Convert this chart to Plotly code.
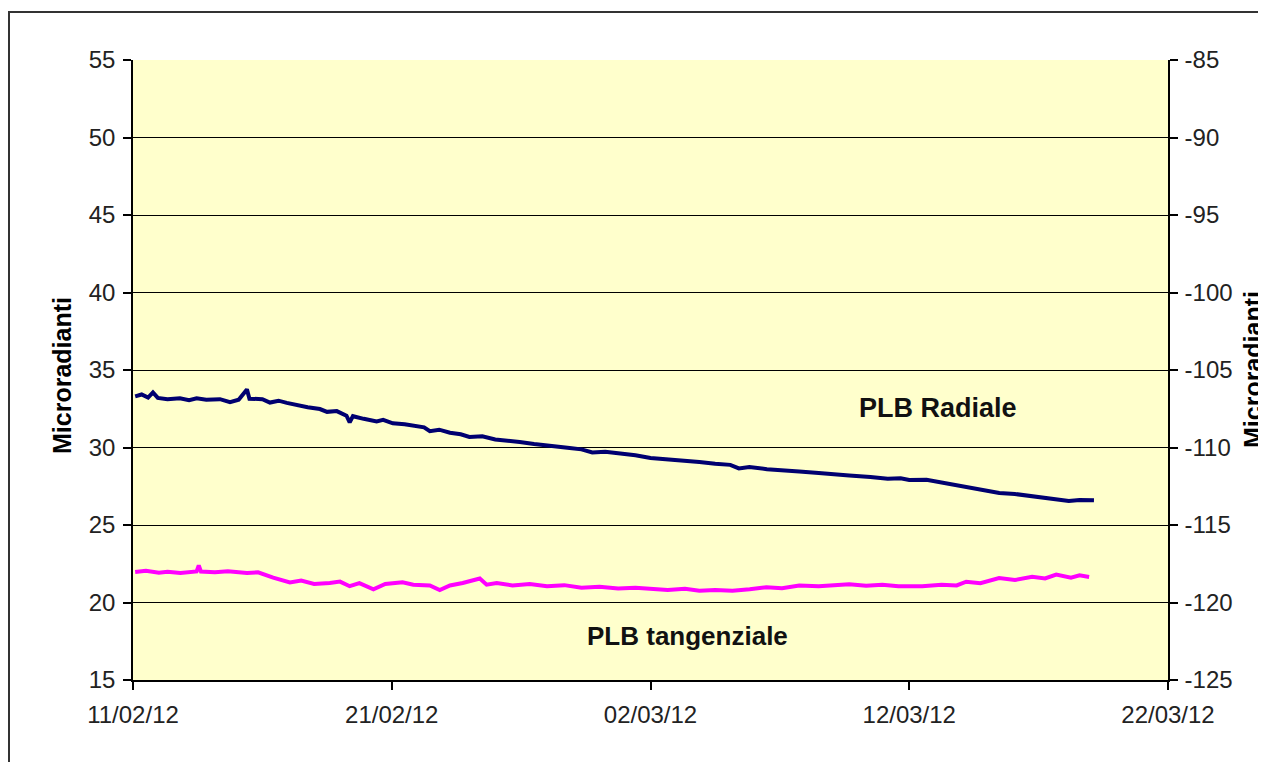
import plotly.graph_objects as go

# ---- data ----
radiale_dates = [
    "2012-02-11 02:00", "2012-02-11 08:00", "2012-02-11 14:00", "2012-02-11 18:30",
    "2012-02-11 23:00", "2012-02-12 08:00", "2012-02-12 19:30", "2012-02-13 04:00",
    "2012-02-13 11:00", "2012-02-13 20:00", "2012-02-14 08:40", "2012-02-14 18:00",
    "2012-02-15 02:00", "2012-02-15 09:40", "2012-02-15 12:00", "2012-02-16 00:00",
    "2012-02-16 07:00", "2012-02-16 15:00", "2012-02-16 22:40", "2012-02-17 08:00",
    "2012-02-17 18:00", "2012-02-18 05:20", "2012-02-18 12:00", "2012-02-18 21:00",
    "2012-02-19 06:00", "2012-02-19 09:00", "2012-02-19 12:00", "2012-02-19 22:00",
    "2012-02-20 10:00", "2012-02-20 16:00", "2012-02-21 01:00", "2012-02-21 12:00",
    "2012-02-21 23:20", "2012-02-22 06:00", "2012-02-22 11:20", "2012-02-22 20:00",
    "2012-02-23 06:00", "2012-02-23 16:00", "2012-02-24 00:00", "2012-02-24 12:00",
    "2012-02-25 00:00", "2012-02-25 12:00", "2012-02-25 22:40", "2012-02-26 12:00",
    "2012-02-27 04:00", "2012-02-27 21:00", "2012-02-28 08:00", "2012-02-28 18:00",
    "2012-02-29 06:00", "2012-02-29 19:20", "2012-03-01 10:00", "2012-03-02 00:00",
    "2012-03-02 16:00", "2012-03-03 08:00", "2012-03-03 21:20", "2012-03-04 12:00",
    "2012-03-05 02:00", "2012-03-05 10:00", "2012-03-05 19:40", "2012-03-06 12:00",
    "2012-03-07 04:00", "2012-03-07 18:00", "2012-03-08 12:00", "2012-03-09 04:00",
    "2012-03-09 16:20", "2012-03-10 12:00", "2012-03-11 04:00", "2012-03-11 16:00",
    "2012-03-12 00:00", "2012-03-12 16:00", "2012-03-13 03:50", "2012-03-13 16:00",
    "2012-03-14 07:40", "2012-03-14 20:00", "2012-03-15 11:30", "2012-03-16 02:00",
    "2012-03-16 14:00", "2012-03-17 00:30", "2012-03-17 14:00", "2012-03-18 04:00",
    "2012-03-18 14:00", "2012-03-19 03:20",
]
radiale_values = [
    33.30, 33.42, 33.22, 33.55,
    33.20, 33.12, 33.18, 33.05,
    33.17, 33.08, 33.12, 32.92,
    33.08, 33.75, 33.15, 33.12,
    32.90, 33.02, 32.88, 32.72,
    32.60, 32.48, 32.30, 32.35,
    32.05, 31.62, 32.02, 31.85,
    31.68, 31.78, 31.56, 31.50,
    31.40, 31.30, 31.05, 31.15,
    30.95, 30.85, 30.68, 30.72,
    30.52, 30.45, 30.35, 30.22,
    30.12, 29.97, 29.88, 29.68,
    29.72, 29.62, 29.50, 29.32,
    29.25, 29.15, 29.06, 28.95,
    28.88, 28.65, 28.74, 28.60,
    28.55, 28.45, 28.35, 28.30,
    28.20, 28.10, 27.98, 28.02,
    27.90, 27.92, 27.77, 27.60,
    27.45, 27.30, 27.06, 27.00,
    26.88, 26.80, 26.70, 26.55,
    26.62, 26.60,
]

tangenziale_dates = [
    "2012-02-11 02:00", "2012-02-11 12:00", "2012-02-12 00:00", "2012-02-12 08:00",
    "2012-02-12 20:00", "2012-02-13 11:00", "2012-02-13 13:00", "2012-02-13 15:00",
    "2012-02-14 04:00", "2012-02-14 16:00", "2012-02-15 09:40", "2012-02-15 20:00",
    "2012-02-16 10:00", "2012-02-16 18:00", "2012-02-17 01:30", "2012-02-17 12:00",
    "2012-02-18 00:00", "2012-02-18 14:30", "2012-02-19 00:00", "2012-02-19 09:00",
    "2012-02-19 18:00", "2012-02-20 07:00", "2012-02-20 18:00", "2012-02-21 10:00",
    "2012-02-21 20:00", "2012-02-22 11:20", "2012-02-22 20:30", "2012-02-23 06:00",
    "2012-02-23 17:50", "2012-02-24 09:40", "2012-02-24 16:00", "2012-02-25 01:20",
    "2012-02-25 16:00", "2012-02-26 08:00", "2012-02-27 00:00", "2012-02-27 16:00",
    "2012-02-28 08:00", "2012-02-29 00:40", "2012-02-29 18:00", "2012-03-01 10:00",
    "2012-03-01 23:00", "2012-03-02 16:00", "2012-03-03 08:00", "2012-03-03 21:20",
    "2012-03-04 12:00", "2012-03-05 04:00", "2012-03-05 20:00", "2012-03-06 11:30",
    "2012-03-07 02:00", "2012-03-07 18:00", "2012-03-08 12:00", "2012-03-09 04:00",
    "2012-03-09 16:20", "2012-03-10 08:00", "2012-03-10 23:00", "2012-03-11 14:00",
    "2012-03-12 12:00", "2012-03-13 06:00", "2012-03-13 20:00", "2012-03-14 04:50",
    "2012-03-14 18:00", "2012-03-15 11:20", "2012-03-16 02:00", "2012-03-16 18:00",
    "2012-03-17 06:00", "2012-03-17 16:20", "2012-03-18 06:00", "2012-03-18 14:00",
    "2012-03-18 22:50",
]
tangenziale_values = [
    21.97, 22.05, 21.92, 21.98,
    21.90, 22.00, 22.40, 22.00,
    21.95, 22.02, 21.90, 21.95,
    21.60, 21.45, 21.30, 21.42,
    21.20, 21.26, 21.35, 21.05,
    21.25, 20.85, 21.20, 21.30,
    21.15, 21.10, 20.80, 21.10,
    21.26, 21.55, 21.15, 21.26,
    21.10, 21.20, 21.05, 21.12,
    20.95, 21.02, 20.90, 20.95,
    20.87, 20.80, 20.88, 20.76,
    20.80, 20.76, 20.85, 20.98,
    20.92, 21.10, 21.05, 21.15,
    21.17, 21.08, 21.15, 21.05,
    21.05, 21.15, 21.10, 21.34,
    21.25, 21.58, 21.45, 21.66,
    21.55, 21.80, 21.60, 21.75,
    21.65,
]

x_tick_vals = ["2012-02-11", "2012-02-21", "2012-03-02", "2012-03-12", "2012-03-22"]
x_tick_text = ["11/02/12", "21/02/12", "02/03/12", "12/03/12", "22/03/12"]
left_ticks = [15, 20, 25, 30, 35, 40, 45, 50, 55]
right_ticks = [-125, -120, -115, -110, -105, -100, -95, -90, -85]
right_tick_text = ["-125", "-120", "-115", "-110", "-105", "-100", "-95", "-90", "-85"]

FONT = "Liberation Sans, Arial, sans-serif"

# plot area in page pixels (the page body adds an 8px offset)
PL, PR, PT, PB = 133, 1168, 60, 680
PW, PH = PR - PL, PB - PT


def px(xp):
    return (xp - PL) / PW


def py(yp):
    return (PB - yp) / PH


fig = go.Figure()
fig.add_trace(go.Scatter(
    x=radiale_dates, y=radiale_values, mode="lines",
    line=dict(color="#000070", width=4), name="PLB Radiale", showlegend=False,
))
fig.add_trace(go.Scatter(
    x=tangenziale_dates, y=tangenziale_values, mode="lines",
    line=dict(color="#FF00FF", width=4), name="PLB tangenziale", showlegend=False,
))
# invisible trace to activate the secondary axis
fig.add_trace(go.Scatter(
    x=[x_tick_vals[0]], y=[right_ticks[0]], yaxis="y2", mode="markers",
    marker=dict(opacity=0), showlegend=False, hoverinfo="skip",
))

axis_common = dict(
    showline=True, linecolor="#000000", linewidth=1.5,
    ticks="outside", ticklen=8, tickcolor="#000000", tickwidth=1.5,
    tickfont=dict(family=FONT, size=24, color="#222222"),
    zeroline=False,
)

fig.update_layout(
    width=1258, height=754,
    margin=dict(l=PL - 8, r=1266 - PR, t=PT - 8, b=762 - PB),
    paper_bgcolor="#FFFFFF",
    plot_bgcolor="#FFFFCC",
    font=dict(family=FONT),
    xaxis=dict(
        type="date", range=[x_tick_vals[0], x_tick_vals[-1]],
        tickvals=x_tick_vals, ticktext=x_tick_text,
        showgrid=False, ticklabelstandoff=4, **axis_common,
    ),
    yaxis=dict(
        range=[15, 55], tickvals=left_ticks,
        showgrid=True, gridcolor="#000000", gridwidth=1.2,
        ticklabelstandoff=3, **axis_common,
    ),
    yaxis2=dict(
        range=[-125, -85], tickvals=right_ticks, ticktext=right_tick_text,
        overlaying="y", side="right", showgrid=False,
        ticklabelstandoff=2, **axis_common,
    ),
    annotations=[
        dict(text="<b>PLB Radiale</b>", xref="paper", yref="paper",
             x=px(938), y=py(408), showarrow=False,
             xanchor="center", yanchor="middle",
             font=dict(family=FONT, size=27, color="#111111")),
        dict(text="<b>PLB tangenziale</b>", xref="paper", yref="paper",
             x=px(687), y=py(636), showarrow=False,
             xanchor="center", yanchor="middle",
             font=dict(family=FONT, size=26, color="#111111")),
        dict(text="<b>Microradianti</b>", xref="paper", yref="paper",
             x=px(62), y=py(376), showarrow=False,
             textangle=-90, xanchor="center", yanchor="middle",
             font=dict(family=FONT, size=25, color="#000000")),
        dict(text="<b>Microradianti</b>", xref="paper", yref="paper",
             x=px(1253), y=py(370), showarrow=False,
             textangle=-90, xanchor="center", yanchor="middle",
             font=dict(family=FONT, size=25, color="#000000")),
    ],
    shapes=[
        dict(type="rect", xref="paper", yref="paper",
             x0=px(9), x1=px(1290), y0=py(800), y1=py(12),
             line=dict(color="#333333", width=2), fillcolor="rgba(0,0,0,0)",
             layer="below"),
    ],
)

fig.write_html(
    "out.html",
    config={"displayModeBar": False},
    post_script=(
        "document.documentElement.style.overflow='hidden';"
        "document.body.style.overflow='hidden';"
    ),
)
